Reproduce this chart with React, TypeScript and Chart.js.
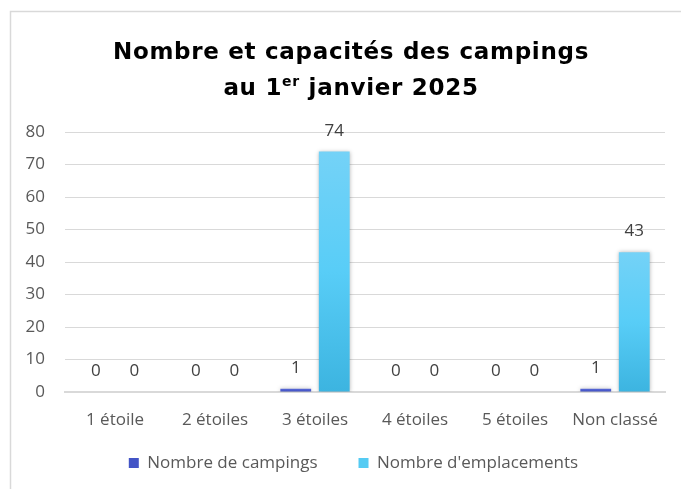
import React, { useEffect, useRef } from "react";
import { Chart, registerables } from "chart.js";

Chart.register(...registerables);

const categories = ["1 étoile", "2 étoiles", "3 étoiles", "4 étoiles", "5 étoiles", "Non classé"];
const campings = [0, 0, 1, 0, 0, 1];
const emplacements = [0, 0, 74, 0, 0, 43];
const seriesNames = ["Nombre de campings", "Nombre d'emplacements"];
const titleLine1 = "Nombre et capacités des campings";
const titleLine2a = "au 1";
const titleSup = "er";
const titleLine2b = " janvier 2025";
const yTicks = { min: 0, max: 80, step: 10 };

const FONT = "'Open Sans', 'Noto Sans', sans-serif";
const TITLE_FONT = "'DejaVu Sans', 'Open Sans', sans-serif";

function gradientFill(top: string, mid: string, bottom: string, solid: string) {
  return (ctx: any) => {
    const chart = ctx.chart;
    if (ctx.type !== "data" || !chart.chartArea || !chart.scales.y) return solid;
    const y = chart.scales.y;
    const t = y.getPixelForValue(ctx.raw);
    const b = y.getPixelForValue(0);
    if (b - t < 2) return solid;
    const g = chart.ctx.createLinearGradient(0, t, 0, b);
    g.addColorStop(0, top);
    g.addColorStop(0.5, mid);
    g.addColorStop(1, bottom);
    return g;
  };
}

const framePlugin = {
  id: "frame",
  afterLayout(chart: any) {
    const lg = chart.legend;
    if (lg) {
      lg.top = 413.5;
      lg.bottom = chart.height;
      lg.height = lg.bottom - lg.top;
      lg.left += 21;
      lg.right += 21;
    }
  },
  beforeDraw(chart: any) {
    const c = chart.ctx;
    c.save();
    c.fillStyle = "#ffffff";
    c.fillRect(0, 0, chart.width, chart.height);
    c.strokeStyle = "#d9d9d9";
    c.lineWidth = 1.5;
    c.beginPath();
    c.moveTo(10.5, chart.height);
    c.lineTo(10.5, 11.5);
    c.lineTo(chart.width, 11.5);
    c.stroke();
    c.restore();
  },
  afterDraw(chart: any) {
    const c = chart.ctx;
    c.save();
    c.fillStyle = "#000000";
    c.textBaseline = "alphabetic";
    c.textAlign = "left";
    const cx = 351;
    const fMain = `bold 23px ${TITLE_FONT}`;
    const fSup = `bold 14px ${TITLE_FONT}`;
    (c as any).letterSpacing = "0.7px";
    c.font = fMain;
    const w1 = c.measureText(titleLine1).width;
    c.fillText(titleLine1, cx - w1 / 2, 59);
    const wa = c.measureText(titleLine2a).width;
    const wb = c.measureText(titleLine2b).width;
    c.font = fSup;
    const ws = c.measureText(titleSup).width;
    const total = wa + ws + wb;
    let x = cx - total / 2;
    c.font = fMain;
    c.fillText(titleLine2a, x, 95);
    x += wa;
    c.font = fSup;
    c.fillText(titleSup, x, 86);
    x += ws;
    c.font = fMain;
    c.fillText(titleLine2b, x, 95);
    c.restore();
  },
};

const shadowPlugin = {
  id: "barShadow",
  beforeDatasetsDraw(chart: any) {
    const c = chart.ctx;
    c.save();
    c.shadowColor = "rgba(0,0,0,0.28)";
    c.shadowBlur = 4;
    c.shadowOffsetX = 0;
    c.shadowOffsetY = 0;
  },
  afterDatasetsDraw(chart: any) {
    chart.ctx.restore();
  },
};

const labelPlugin = {
  id: "valueLabels",
  afterDatasetsDraw(chart: any) {
    const c = chart.ctx;
    c.save();
    c.font = `17px ${FONT}`;
    c.fillStyle = "#404040";
    c.textAlign = "center";
    c.textBaseline = "alphabetic";
    chart.data.datasets.forEach((ds: any, i: number) => {
      const meta = chart.getDatasetMeta(i);
      meta.data.forEach((el: any, j: number) => {
        c.fillText(String(ds.data[j]), el.x, el.y - 16);
      });
    });
    c.restore();
  },
};

export default function App() {
  const ref = useRef<HTMLCanvasElement | null>(null);
  useEffect(() => {
    if (!ref.current) return;
    const chart = new Chart(ref.current, {
      type: "bar",
      data: {
        labels: categories,
        datasets: [
          {
            label: seriesNames[0],
            data: campings,
            backgroundColor: gradientFill("#5b6bd8", "#4a5acc", "#3646b8", "#4354c6"),
            barPercentage: 0.8,
            categoryPercentage: 0.77,
          },
          {
            label: seriesNames[1],
            data: emplacements,
            backgroundColor: gradientFill("#74d2f7", "#58cdf7", "#3cb4e0", "#55cbf3"),
            barPercentage: 0.8,
            categoryPercentage: 0.77,
          },
        ],
      },
      options: {
        responsive: false,
        animation: false,
        layout: { padding: { left: 0, right: 16, top: 132, bottom: 8 } },
        scales: {
          x: {
            grid: { display: false, drawTicks: false },
            border: { display: true, color: "#d9d9d9", width: 2 },
            ticks: { color: "#595959", font: { family: FONT, size: 17 }, padding: 18 },
            afterFit: (s: any) => {
              s.height = 46;
            },
          },
          y: {
            min: yTicks.min,
            max: yTicks.max,
            grid: { color: "#d9d9d9", drawTicks: false },
            border: { display: false },
            ticks: { stepSize: yTicks.step, color: "#595959", font: { family: FONT, size: 17 }, padding: 20 },
            afterFit: (s: any) => {
              s.width = 65;
            },
          },
        },
        plugins: {
          title: { display: false },
          tooltip: { enabled: false },
          legend: {
            position: "bottom",
            maxHeight: 43,
            labels: {
              boxWidth: 10,
              boxHeight: 10,
              padding: 41,
              color: "#595959",
              font: { family: FONT, size: 17 },
            },
          },
        },
      },
      plugins: [framePlugin, shadowPlugin, labelPlugin],
    });
    return () => chart.destroy();
  }, []);
  return (
    <div style={{ position: "fixed", left: 0, top: 0, width: 681, height: 489, background: "#fff" }}>
      <canvas ref={ref} width={681} height={489} style={{ display: "block" }} />
    </div>
  );
}
